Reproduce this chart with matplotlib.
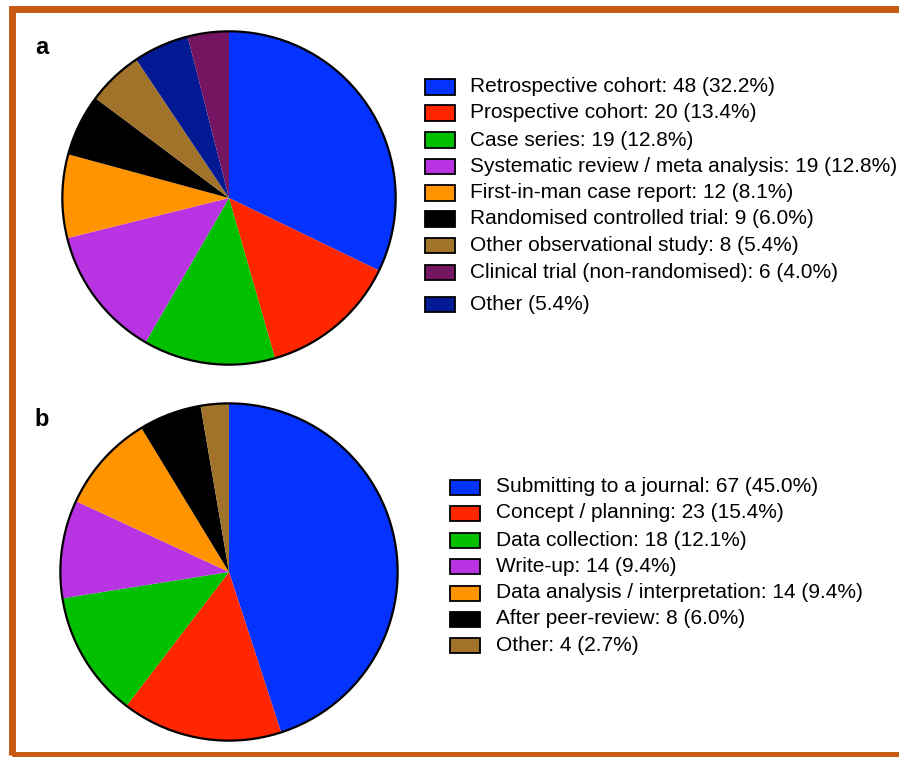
import matplotlib
matplotlib.use("Agg")
import matplotlib.pyplot as plt
from matplotlib.patches import Rectangle, Circle

plt.rcParams['font.family'] = ['Liberation Sans', 'DejaVu Sans']

# panel a - study design (pie order, clockwise from 12 o'clock)
design_pct = [32.2, 13.4, 12.8, 12.8, 8.1, 6.0, 5.4, 5.4, 4.0]
design_colors = ['#0433FF', '#FF2600', '#00C000', '#B833E1', '#FF9300',
                 '#000000', '#A0722A', '#011993', '#751562']
# legend order and text
design_legend_idx = [0, 1, 2, 3, 4, 5, 6, 8, 7]
design_labels = ['Retrospective cohort: 48 (32.2%)',
                 'Prospective cohort: 20 (13.4%)',
                 'Case series: 19 (12.8%)',
                 'Systematic review / meta analysis: 19 (12.8%)',
                 'First-in-man case report: 12 (8.1%)',
                 'Randomised controlled trial: 9 (6.0%)',
                 'Other observational study: 8 (5.4%)',
                 'Clinical trial (non-randomised): 6 (4.0%)',
                 'Other (5.4%)']

# panel b - stage
stage_pct = [45.0, 15.4, 12.1, 9.4, 9.4, 6.0, 2.7]
stage_colors = ['#0433FF', '#FF2600', '#00C000', '#B833E1', '#FF9300',
                '#000000', '#A0722A']
stage_labels = ['Submitting to a journal: 67 (45.0%)',
                'Concept / planning: 23 (15.4%)',
                'Data collection: 18 (12.1%)',
                'Write-up: 14 (9.4%)',
                'Data analysis / interpretation: 14 (9.4%)',
                'After peer-review: 8 (6.0%)',
                'Other: 4 (2.7%)']

W, H = 899, 757
fig = plt.figure(figsize=(W / 100, H / 100), dpi=100)


def px_axes(cx, cy, r):
    return fig.add_axes([(cx - r) / W, (H - cy - r) / H, 2 * r / W, 2 * r / H])


def draw_pie(cx, cy, r, values, colors):
    ax = px_axes(cx, cy, r)
    ax.pie(values, colors=colors, startangle=90, counterclock=False,
           radius=1, wedgeprops=dict(linewidth=0))
    ax.add_patch(Circle((0, 0), 1, fill=False, edgecolor='black', linewidth=1.6))
    ax.set_xlim(-1.02, 1.02)
    ax.set_ylim(-1.02, 1.02)
    ax.axis('off')


def draw_legend(x_box, x_text, rows_y, colors, labels):
    for y, c, lab in zip(rows_y, colors, labels):
        fig.add_artist(Rectangle((x_box / W, (H - y - 7.5) / H), 30 / W, 15 / H,
                                 transform=fig.transFigure, facecolor=c,
                                 edgecolor='black', linewidth=1.3))
        fig.text(x_text / W, (H - y) / H, lab, fontsize=15, va='center', ha='left')


draw_pie(229, 198, 170, design_pct, design_colors)
draw_pie(229, 572, 172, stage_pct, stage_colors)

rows_a = [87, 113, 140, 166.5, 193, 219, 245.5, 272, 305]
draw_legend(425, 470, rows_a, [design_colors[i] for i in design_legend_idx], design_labels)
rows_b = [487, 513, 540, 566.5, 593, 619, 645.5]
draw_legend(450, 496, rows_b, stage_colors, stage_labels)

fig.text(42 / W, (H - 48) / H, 'a', fontsize=17, fontweight='bold', va='center', ha='center')
fig.text(42 / W, (H - 420) / H, 'b', fontsize=17, fontweight='bold', va='center', ha='center')

# orange frame (right edge falls outside the image)
fig.add_artist(Rectangle((11.5 / W, 2 / H), 900 / W, (H - 8.5 - 2) / H,
                         transform=fig.transFigure, fill=False,
                         edgecolor='#C55A11', linewidth=5))

fig.savefig('out.png', dpi=100)
